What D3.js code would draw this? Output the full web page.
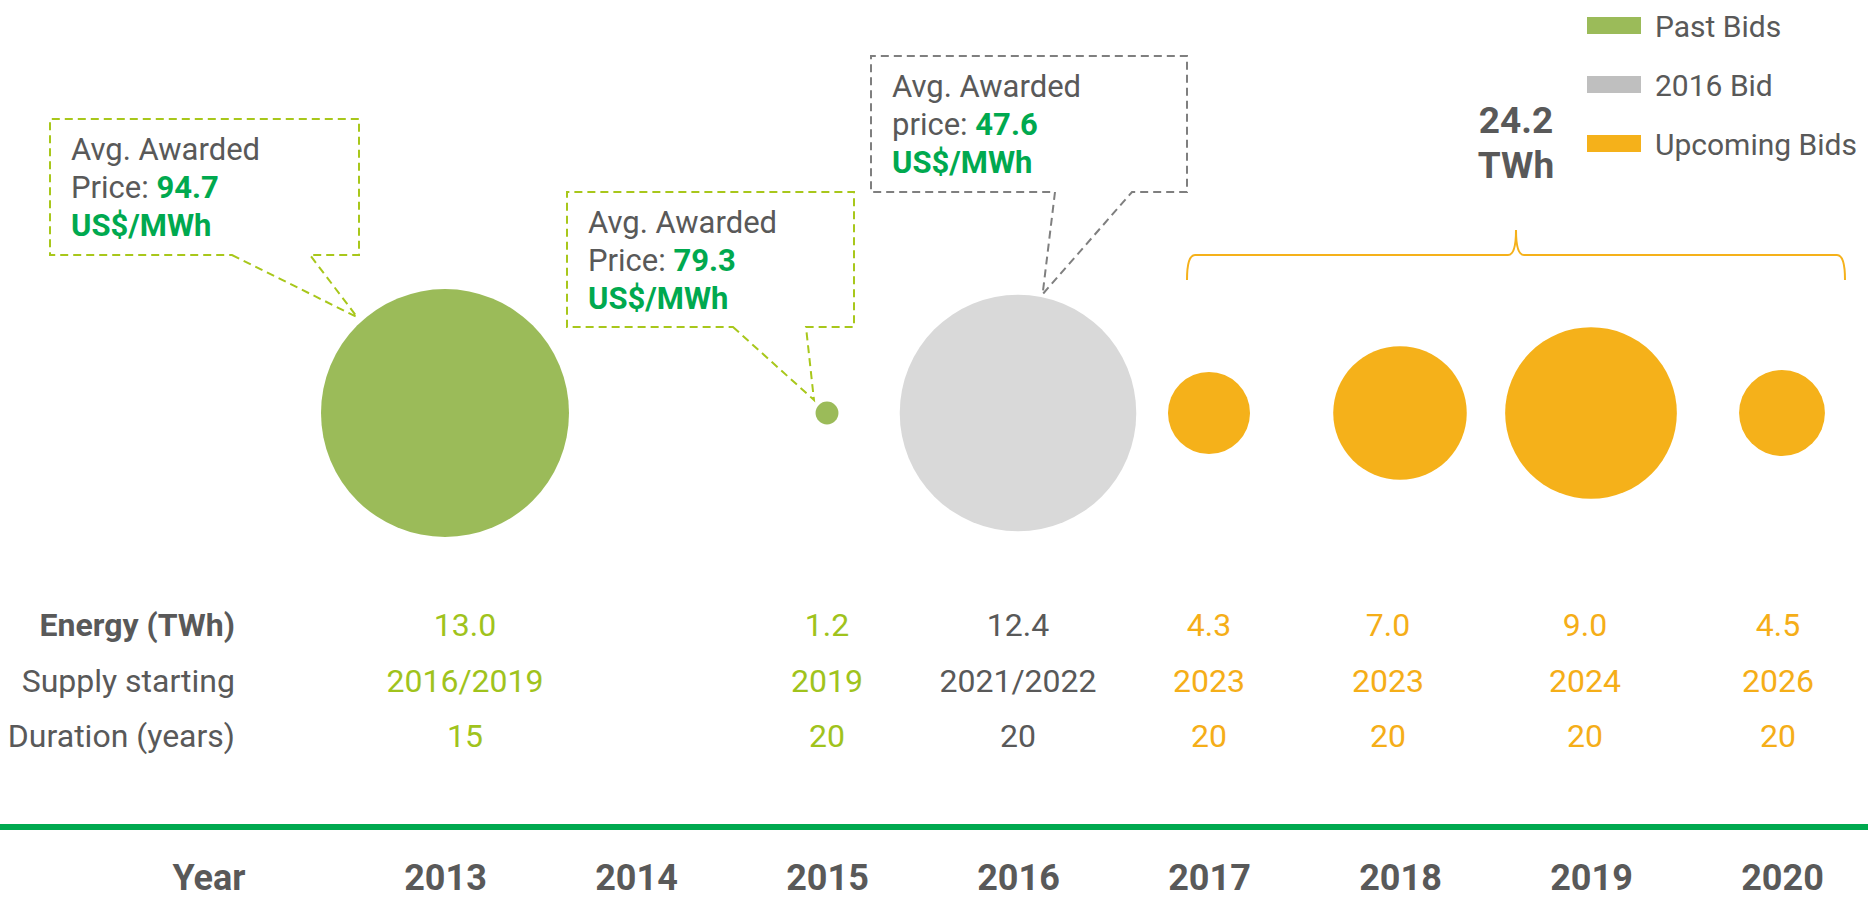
<!DOCTYPE html>
<html>
<head>
<meta charset="utf-8">
<script src="https://cdn.jsdelivr.net/npm/d3@7"></script>
<style>
  html, body { margin: 0; padding: 0; background: #fff; overflow: hidden; }
  svg { display: block; font-family: Roboto, "Open Sans", "DejaVu Sans", sans-serif; }
</style>
</head>
<body>
<svg id="chart" width="1868" height="902"></svg>
<script>
// ---------- data ----------
const years = [2013, 2014, 2015, 2016, 2017, 2018, 2019, 2020];
const bidYears = [2013, 2015, 2016, 2017, 2018, 2019, 2020];
const energyTWh = [13.0, 1.2, 12.4, 4.3, 7.0, 9.0, 4.5];
const supplyStart = ["2016/2019", "2019", "2021/2022", "2023", "2023", "2024", "2026"];
const durationYears = [15, 20, 20, 20, 20, 20, 20];
const bidGroup = ["Past Bids", "Past Bids", "2016 Bid", "Upcoming Bids", "Upcoming Bids", "Upcoming Bids", "Upcoming Bids"];
const priceYears = [2013, 2015, 2016];
const avgPrice = [94.7, 79.3, 47.6];
const priceWord = ["Price:", "Price:", "price:"];
const upcomingTotalLabel = ["24.2", "TWh"];
const rowLabels = ["Energy (TWh)", "Supply starting", "Duration (years)"];
const legendItems = ["Past Bids", "2016 Bid", "Upcoming Bids"];

// ---------- styles ----------
const circleColor = { "Past Bids": "#9BBB59", "2016 Bid": "#D9D9D9", "Upcoming Bids": "#F5B11A" };
const legendColor = { "Past Bids": "#9BBB59", "2016 Bid": "#BFBFBF", "Upcoming Bids": "#F5B11A" };
const tableColor = { "Past Bids": "#A0C31C", "2016 Bid": "#595959", "Upcoming Bids": "#F5AE18" };
const boxStroke = { "Past Bids": "#A8C71B", "2016 Bid": "#7F7F7F" };
const grayText = "#595959";
const priceGreen = "#00A94F";

const svg = d3.select("#chart");

// ---------- scales ----------
const x = d3.scalePoint().domain(years).range([445, 1782]);
const r = d3.scaleLinear().domain([0, 13]).range([0, 124]);
const cy = 413;

// ---------- bubbles ----------
const bids = bidYears.map((y, i) => ({
  year: y, energy: energyTWh[i], supply: supplyStart[i], dur: durationYears[i], group: bidGroup[i]
}));

svg.append("g").selectAll("circle").data(bids).join("circle")
  .attr("cx", d => x(d.year))
  .attr("cy", cy)
  .attr("r", d => r(d.energy))
  .attr("fill", d => circleColor[d.group]);

// ---------- callouts ----------
const boxes = [
  { x: 50, y: 119, w: 309, h: 136, b1: 232, b2: 310, ang: -132.5, pad: 6 },
  { x: 567, y: 192, w: 287, h: 135, b1: 733, b2: 806, ang: -135, pad: 7 },
  { x: 871, y: 56, w: 316, h: 136, b1: 1055, b2: 1132, ang: -78.3, pad: 3 }
];
priceYears.forEach((py, i) => {
  const bid = bids.find(b => b.year === py);
  const bx = boxes[i];
  const cx = x(py);
  const a = bx.ang * Math.PI / 180;
  const rr = r(bid.energy) + bx.pad;
  const tx = cx + rr * Math.cos(a), ty = cy + rr * Math.sin(a);
  const bot = bx.y + bx.h, right = bx.x + bx.w;
  const path = d3.path();
  path.moveTo(bx.b1, bot);
  path.lineTo(tx, ty);
  path.lineTo(bx.b2, bot);
  path.lineTo(right, bot);
  path.lineTo(right, bx.y);
  path.lineTo(bx.x, bx.y);
  path.lineTo(bx.x, bot);
  path.closePath();
  svg.append("path")
    .attr("d", path.toString())
    .attr("fill", "none")
    .attr("stroke", boxStroke[bid.group])
    .attr("stroke-width", 2)
    .attr("stroke-dasharray", "8,5");

  const t = svg.append("text")
    .attr("x", bx.x + 21)
    .attr("y", bx.y + 41)
    .attr("font-size", 31)
    .attr("fill", grayText);
  t.append("tspan").attr("x", bx.x + 21).attr("dy", 0).text("Avg. Awarded");
  const l2 = t.append("tspan").attr("x", bx.x + 21).attr("dy", 38);
  l2.append("tspan").text(priceWord[i] + " ");
  l2.append("tspan").attr("fill", priceGreen).attr("font-weight", "bold").text(d3.format(".1f")(avgPrice[i]));
  t.append("tspan").attr("x", bx.x + 21).attr("dy", 38)
    .attr("fill", priceGreen).attr("font-weight", "bold").text("US$/MWh");
});

// ---------- bracket for upcoming bids ----------
const up = bids.filter(b => b.group === "Upcoming Bids");
const bl = x(up[0].year) - 22, br = x(up[up.length - 1].year) + 63;
const bm = (bl + br) / 2, by = 255, bEnd = 280, bPeak = 230, c = 8;
const bp = d3.path();
bp.moveTo(bl, bEnd);
bp.quadraticCurveTo(bl, by, bl + c, by);
bp.lineTo(bm - c, by);
bp.quadraticCurveTo(bm, by, bm, bPeak);
bp.quadraticCurveTo(bm, by, bm + c, by);
bp.lineTo(br - c, by);
bp.quadraticCurveTo(br, by, br, bEnd);
svg.append("path").attr("d", bp.toString())
  .attr("fill", "none").attr("stroke", "#F5B11A").attr("stroke-width", 2);

svg.append("g").selectAll("text").data(upcomingTotalLabel).join("text")
  .attr("x", bm)
  .attr("y", (d, i) => 133 + i * 45)
  .attr("text-anchor", "middle")
  .attr("font-size", 37)
  .attr("font-weight", "bold")
  .attr("fill", grayText)
  .text(d => d);

// ---------- legend ----------
const lg = svg.append("g").selectAll("g").data(legendItems).join("g")
  .attr("transform", (d, i) => `translate(1587, ${17 + i * 59})`);
lg.append("rect").attr("width", 54).attr("height", 17).attr("fill", d => legendColor[d]);
lg.append("text").attr("x", 68).attr("y", 20).attr("font-size", 30).attr("fill", grayText).text(d => d);

// ---------- table ----------
const rowY = [636, 692, 747];
const colShift = { 2013: 20, 2018: -12, 2019: -6, 2020: -4 };
svg.append("g").selectAll("text").data(rowLabels).join("text")
  .attr("x", 235)
  .attr("y", (d, i) => rowY[i])
  .attr("text-anchor", "end")
  .attr("font-size", 32)
  .attr("font-weight", (d, i) => i === 0 ? "bold" : "normal")
  .attr("fill", grayText)
  .text(d => d);

const rowAccessors = [d => d3.format(".1f")(d.energy), d => d.supply, d => String(d.dur)];
rowAccessors.forEach((acc, ri) => {
  svg.append("g").selectAll("text").data(bids).join("text")
    .attr("x", d => x(d.year) + (colShift[d.year] || 0))
    .attr("y", rowY[ri])
    .attr("text-anchor", "middle")
    .attr("font-size", 32)
    .attr("fill", d => tableColor[d.group])
    .text(acc);
});

// ---------- year axis ----------
svg.append("rect").attr("x", 0).attr("y", 824).attr("width", 1868).attr("height", 6).attr("fill", "#00A94F");

const axis = d3.axisBottom(x).tickSize(0).tickPadding(0);
const ag = svg.append("g").attr("transform", "translate(0, 860)").call(axis);
ag.select(".domain").remove();
ag.selectAll("text")
  .attr("dy", null)
  .attr("y", 30)
  .attr("font-size", 36)
  .attr("font-weight", "bold")
  .attr("font-family", "Roboto, 'Open Sans', sans-serif")
  .attr("fill", grayText);

svg.append("text").attr("x", 209).attr("y", 890)
  .attr("text-anchor", "middle").attr("font-size", 36).attr("font-weight", "bold")
  .attr("fill", grayText).text("Year");
</script>
</body>
</html>
